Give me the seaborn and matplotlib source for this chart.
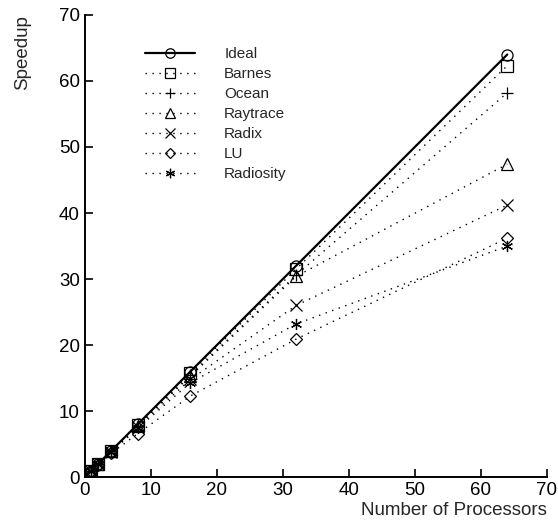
import matplotlib
matplotlib.use("Agg")
import matplotlib.pyplot as plt
import seaborn as sns
import pandas as pd

processors = [1, 2, 4, 8, 16, 32, 64]
ideal = [1, 2, 4, 8, 16, 32, 64]
barnes = [1, 2, 3.95, 7.9, 15.8, 31.5, 62.3]
ocean = [1, 1.95, 3.9, 7.8, 15.5, 30.6, 58.2]
raytrace = [1, 1.95, 3.9, 7.8, 15.3, 30.4, 47.4]
radix = [1, 1.95, 3.85, 7.6, 14.8, 26.0, 41.2]
lu = [1, 1.9, 3.6, 6.6, 12.3, 20.9, 36.2]
radiosity = [1, 1.95, 3.8, 7.4, 14.3, 23.2, 35.0]

series = [("Ideal", ideal, "o"), ("Barnes", barnes, "s"), ("Ocean", ocean, "+"),
          ("Raytrace", raytrace, "^"), ("Radix", radix, "x"), ("LU", lu, "D"),
          ("Radiosity", radiosity, (6, 2, 0))]

sns.set_style("ticks")
plt.rcParams["font.family"] = ["Liberation Sans", "DejaVu Sans"]

fig = plt.figure(figsize=(5.58, 5.32), dpi=100)
ax = fig.add_axes([0.152, 0.103, 0.828, 0.869])

for name, vals, mk in series:
    df = pd.DataFrame({"p": processors, "s": vals})
    solid = name == "Ideal"
    ms = 8
    if mk == "D":
        ms = 6
    elif mk in ("+", "x"):
        ms = 9
    sns.lineplot(data=df, x="p", y="s", ax=ax, label=name, color="black",
                 marker=mk, markersize=ms, markerfacecolor="none",
                 markeredgecolor="black", markeredgewidth=0.9,
                 linewidth=1.6 if solid else 1.0,
                 linestyle="-" if solid else (0, (1, 4)))

ax.set_xlim(0, 70)
ax.set_ylim(0, 70)
ax.set_xticks(range(0, 71, 10))
ax.set_yticks(range(0, 71, 10))
ax.tick_params(direction="in", length=6, width=1.2, labelsize=13.5, colors="black")
for s in ["top", "right"]:
    ax.spines[s].set_visible(False)
for s in ["left", "bottom"]:
    ax.spines[s].set_linewidth(1.4)
    ax.spines[s].set_color("black")

ax.set_xlabel("Number of Processors", fontsize=13.5, loc="right", labelpad=2)
ax.set_ylabel("Speedup", fontsize=13.5, loc="top")
ax.yaxis.set_label_coords(-0.117, 1.0)

leg = ax.legend(loc="upper left", bbox_to_anchor=(0.1, 0.96), frameon=False,
                fontsize=11, handlelength=3.3, labelspacing=0.39, handletextpad=1.9,
                markerscale=0.85)

fig.savefig("out.png", dpi=100)
